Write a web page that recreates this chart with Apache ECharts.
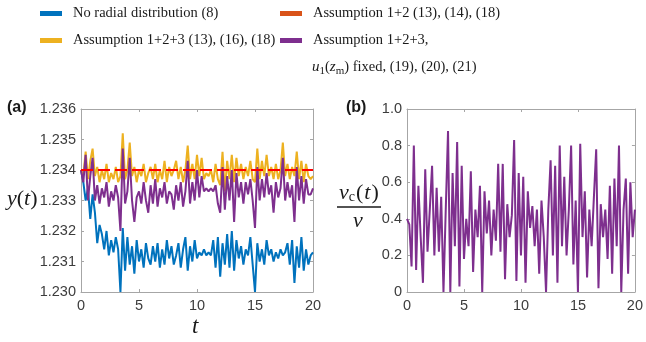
<!DOCTYPE html>
<html>
<head>
<meta charset="utf-8">
<script src="https://cdn.jsdelivr.net/npm/echarts@6/dist/echarts.min.js"></script>
<style>
html,body{margin:0;padding:0;background:#fff;}
#chart{width:646px;height:342px;}
</style>
</head>
<body>
<div id="chart"></div>
<script>
// ---- data ----
const tStep = 0.2;
const seriesNames = [
  'No radial distribution (8)',
  'Assumption 1+2 (13), (14), (18)',
  'Assumption 1+2+3 (13), (16), (18)',
  'Assumption 1+2+3,'
];
const xTicks = [0, 5, 10, 15, 20];
const yTicksA = [1.230, 1.231, 1.232, 1.233, 1.234, 1.235, 1.236];
const yTicksB = [0, 0.2, 0.4, 0.6, 0.8, 1.0];

// (a) y(t)
const blueA = [1.2340,1.2336,1.2330,1.2334,1.2324,1.2332,1.2326,1.2316,1.2322,1.2319,
  1.2314,1.2320,1.2312,1.2317,1.2313,1.2318,1.2314,1.2300,1.2321,1.2307,
  1.2318,1.2309,1.2315,1.2306,1.2317,1.2310,1.2314,1.2308,1.2316,1.2311,
  1.2309,1.2315,1.2310,1.2316,1.2308,1.2314,1.2309,1.2317,1.2311,1.2315,
  1.2309,1.2312,1.2316,1.2308,1.2314,1.2318,1.2307,1.2315,1.2310,1.2317,
  1.2311,1.2313,1.2312,1.2314,1.2312,1.2313,1.2312,1.2317,1.2308,1.2318,
  1.2305,1.2316,1.2309,1.2319,1.2308,1.2320,1.2307,1.2317,1.2311,1.2315,
  1.2309,1.2314,1.2312,1.2318,1.2309,1.2300,1.2316,1.2310,1.2314,1.2309,
  1.2317,1.2312,1.2314,1.2310,1.2313,1.2311,1.2314,1.2312,1.2313,1.2316,
  1.2309,1.2317,1.2303,1.2315,1.2308,1.2318,1.2307,1.2314,1.2309,1.2312,
  1.2313];
const yellowA = [1.2340,1.2338,1.2346,1.2337,1.2343,1.2347,1.2338,1.2341,1.2336,1.2340,
  1.2337,1.2342,1.2336,1.2339,1.2337,1.2341,1.2336,1.2338,1.2352,1.2337,
  1.2340,1.2349,1.2338,1.2341,1.2336,1.2340,1.2338,1.2342,1.2336,1.2339,
  1.2341,1.2337,1.2342,1.2336,1.2340,1.2337,1.2343,1.2336,1.2341,1.2338,
  1.2340,1.2343,1.2337,1.2341,1.2336,1.2340,1.2348,1.2337,1.2342,1.2337,
  1.2345,1.2338,1.2344,1.2337,1.2339,1.2338,1.2340,1.2336,1.2342,1.2337,
  1.2335,1.2346,1.2333,1.2343,1.2337,1.2345,1.2336,1.2344,1.2338,1.2342,
  1.2337,1.2341,1.2338,1.2343,1.2337,1.2336,1.2347,1.2337,1.2343,1.2338,
  1.2345,1.2338,1.2341,1.2337,1.2342,1.2337,1.2340,1.2349,1.2338,1.2342,
  1.2337,1.2341,1.2338,1.2346,1.2337,1.2343,1.2336,1.2342,1.2338,1.2337,
  1.2338];
const purpleA = [1.2340,1.2336,1.2345,1.2330,1.2338,1.2344,1.2330,1.2335,1.2329,1.2334,
  1.2331,1.2336,1.2328,1.2333,1.2330,1.2335,1.2331,1.2320,1.2347,1.2329,
  1.2333,1.2344,1.2330,1.2323,1.2331,1.2333,1.2329,1.2336,1.2330,1.2326,
  1.2335,1.2329,1.2337,1.2328,1.2334,1.2331,1.2336,1.2329,1.2333,1.2332,
  1.2327,1.2335,1.2330,1.2336,1.2328,1.2333,1.2343,1.2329,1.2336,1.2330,
  1.2340,1.2331,1.2338,1.2333,1.2334,1.2333,1.2334,1.2333,1.2335,1.2329,
  1.2326,1.2341,1.2327,1.2338,1.2330,1.2340,1.2323,1.2339,1.2331,1.2336,
  1.2329,1.2336,1.2332,1.2337,1.2330,1.2321,1.2341,1.2330,1.2337,1.2331,
  1.2339,1.2332,1.2335,1.2326,1.2336,1.2331,1.2334,1.2344,1.2330,1.2336,
  1.2331,1.2335,1.2323,1.2341,1.2330,1.2338,1.2329,1.2337,1.2332,1.2332,
  1.2334];
const refT = [0, 20];
const refA = [1.234, 1.234];

// (b) vc(t)/v
const purpleB = [0.40,0.37,0.14,0.80,0.12,0.58,0.30,0.05,0.67,0.22,
  0.45,0.69,0.20,0.57,0.22,0.52,0.00,0.45,0.88,0.00,
  0.65,0.25,0.82,0.03,0.69,0.18,0.40,0.25,0.66,0.11,
  0.45,0.30,0.58,0.00,0.55,0.32,0.50,0.20,0.45,0.28,
  0.70,0.22,0.70,0.07,0.48,0.30,0.42,0.83,0.06,0.65,
  0.20,0.63,0.05,0.55,0.35,0.47,0.25,0.45,0.10,0.50,
  0.30,0.00,0.45,0.72,0.20,0.69,0.05,0.80,0.25,0.63,
  0.20,0.45,0.80,0.15,0.50,0.00,0.81,0.30,0.55,0.08,
  0.45,0.25,0.52,0.78,0.02,0.48,0.30,0.45,0.18,0.58,
  0.10,0.62,0.25,0.80,0.00,0.45,0.62,0.10,0.60,0.30,
  0.45];

// ---- build ----
function pair(vals){ return vals.map((v,i)=>[+(i*tStep).toFixed(2), v]); }
const C = {blue:'#0072BD', orange:'#D95319', yellow:'#EDB120', purple:'#7E2F8E', red:'#FF0000'};
const frame = '#a6a6a6';
const labCol = '#3c3c3c';
const serif = "'Liberation Serif', 'Times New Roman', serif";
const sans = "'Liberation Sans', Arial, sans-serif";

function xAx(gi, pos, showLabels){
  return {type:'value', gridIndex:gi, position:pos, min:0, max:20, interval:5,
    axisLine:{show:true, onZero:false, lineStyle:{color:frame, width:1}},
    axisTick:{show:true, inside:true, length:3, lineStyle:{color:frame}},
    axisLabel:{show:showLabels, color:labCol, fontSize:14.5, fontFamily:sans, margin:6},
    splitLine:{show:false}};
}
function yAx(gi, pos, showLabels, min, max, interval, fmt){
  return {type:'value', gridIndex:gi, position:pos, min, max, interval,
    axisLine:{show:true, onZero:false, lineStyle:{color:frame, width:1}},
    axisTick:{show:true, inside:true, length:3, lineStyle:{color:frame}},
    axisLabel:{show:showLabels, color:labCol, fontSize:14.5, fontFamily:sans, margin:5, formatter:fmt},
    splitLine:{show:false}};
}
const fmtA = v => v.toFixed(3);
const fmtB = v => (v === 0 ? '0' : v.toFixed(1));

function legendAt(left, top, name, color){
  return {left, top, padding:0, icon:'rect', itemWidth:22, itemHeight:5,
    selectedMode:false,
    data:[{name, itemStyle:{color, borderWidth:0}, lineStyle:{color, type:'solid'}}],
    textStyle:{fontFamily:serif, fontSize:14.5, color:'#1a1a1a', padding:[0,0,0,6]}};
}

const lineS = (name, data, color, xi, yi, z) => ({
  name, type:'line', data, xAxisIndex:xi, yAxisIndex:yi, showSymbol:false, symbol:'none',
  lineStyle:{color, width:2}, itemStyle:{color}, z, animation:false
});

const option = {
  animation:false,
  backgroundColor:'#fff',
  grid:[
    {left:81, top:109, width:232, height:183},
    {left:407, top:109, width:232, height:183}
  ],
  legend:[
    legendAt(40, 6, seriesNames[0], C.blue),
    legendAt(280, 6, seriesNames[1], C.orange),
    legendAt(40, 33, seriesNames[2], C.yellow),
    legendAt(280, 33, seriesNames[3], C.purple)
  ],
  xAxis:[xAx(0,'bottom',true), xAx(0,'top',false), xAx(1,'bottom',true), xAx(1,'top',false)],
  yAxis:[
    yAx(0,'left',true,1.230,1.236,0.001,fmtA), yAx(0,'right',false,1.230,1.236,0.001,fmtA),
    yAx(1,'left',true,0,1,0.2,fmtB), yAx(1,'right',false,0,1,0.2,fmtB)
  ],
  series:[
    lineS(seriesNames[0], pair(blueA), C.blue, 0, 0, 2),
    lineS(seriesNames[2], pair(yellowA), C.yellow, 0, 0, 3),
    lineS(seriesNames[3], pair(purpleA), C.purple, 0, 0, 4),
    {name:seriesNames[1], type:'line', data:refT.map((t,i)=>[t, refA[i]]), xAxisIndex:0, yAxisIndex:0,
      showSymbol:false, symbol:'none', z:5,
      lineStyle:{color:C.red, width:2, type:[12,5]}, itemStyle:{color:C.orange}},
    lineS(seriesNames[3], pair(purpleB), C.purple, 2, 2, 4)
  ],
  graphic:[
    {type:'text', left:312, top:60, style:{
      text:'{i|u}{s|1}{n|(}{i|z}{s|m}{n|) fixed, (19), (20), (21)}',
      rich:{
        i:{fontFamily:serif, fontStyle:'italic', fontSize:15, fill:'#1a1a1a'},
        n:{fontFamily:serif, fontSize:14.5, fill:'#1a1a1a'},
        s:{fontFamily:serif, fontSize:11, fill:'#1a1a1a', padding:[7,0,0,0]}
      }}},
    {type:'text', left:7, top:100, style:{text:'(a)', font:"bold 16px 'Liberation Sans'", fill:'#1a1a1a'}},
    {type:'text', left:346, top:100, style:{text:'(b)', font:"bold 16px 'Liberation Sans'", fill:'#1a1a1a'}},
    {type:'text', left:7, top:188, style:{
      text:'{i|y}{n|(}{i|t}{n|)}',
      rich:{i:{fontFamily:serif, fontStyle:'italic', fontSize:22, fill:'#1a1a1a'},
            n:{fontFamily:serif, fontSize:22, fill:'#1a1a1a'}}}},
    {type:'text', left:192, top:315, style:{text:'t', font:"italic 23px 'Liberation Serif'", fill:'#1a1a1a'}},
    {type:'text', left:339, top:182, style:{
      text:'{i|v}{s|c}{n|(}{i|t}{n|)}',
      rich:{i:{fontFamily:serif, fontStyle:'italic', fontSize:22, fill:'#1a1a1a'},
            s:{fontFamily:serif, fontSize:14, fill:'#1a1a1a', padding:[8,0,0,0]},
            n:{fontFamily:serif, fontSize:22, fill:'#1a1a1a', padding:[0,1,0,1]}}}},
    {type:'line', shape:{x1:337, y1:207, x2:381, y2:207}, style:{stroke:'#1a1a1a', lineWidth:1.5}},
    {type:'text', left:353, top:210, style:{text:'v', font:"italic 22px 'Liberation Serif'", fill:'#1a1a1a'}}
  ]
};

const chart = echarts.init(document.getElementById('chart'), null, {renderer:'canvas'});
chart.setOption(option);
</script>
</body>
</html>
